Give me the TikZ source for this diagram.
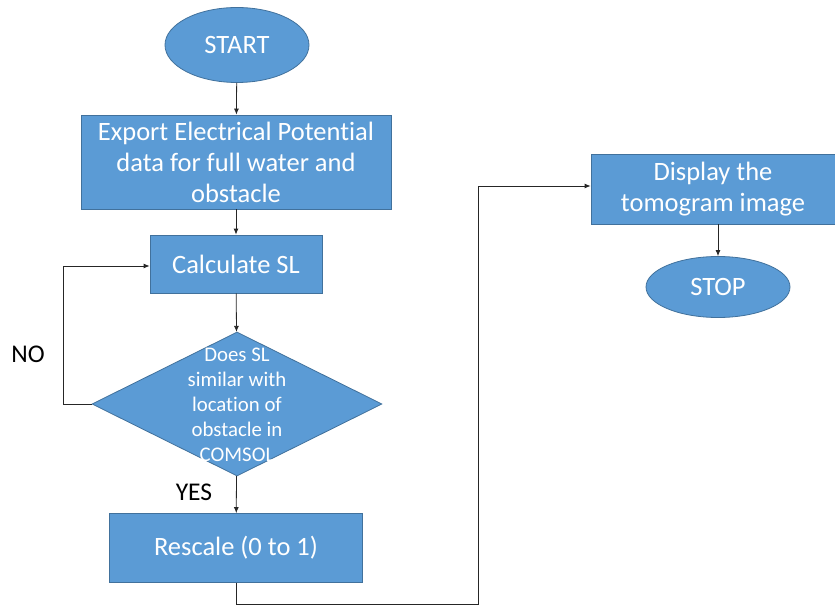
\documentclass[tikz,border=0pt]{standalone}
\usepackage{fontspec}
\setmainfont[Ligatures={NoCommon}]{Carlito}
\usepackage{tikz}
\usetikzlibrary{arrows.meta, positioning, shapes.geometric}
\definecolor{boxblue}{HTML}{5B9BD5}
\definecolor{edgeblue}{HTML}{41719C}

\begin{document}
\begin{tikzpicture}[
    x=1pt, y=-1pt,
    block/.style={rectangle, draw=edgeblue, fill=boxblue, line width=0.8pt, text=white,
        font=\fontsize{26.5}{31}\selectfont, align=center, inner sep=0pt},
    terminal/.style={ellipse, draw=edgeblue, fill=boxblue, line width=0.8pt, text=white,
        font=\fontsize{26.5}{31}\selectfont, inner sep=0pt, minimum width=144pt},
    decision/.style={diamond, draw=edgeblue, fill=boxblue, line width=0.8pt, inner sep=0pt,
        minimum width=290pt, minimum height=144pt},
    flow/.style={-{Latex[length=6pt, width=5pt]}, line width=0.8pt, black!85},
]
    \useasboundingbox (0, 0) rectangle (835, 607);

    % main column
    \node[terminal, minimum height=75pt] (start) at (237, 45) {START};
    \node[block, minimum width=310pt, minimum height=94pt] (export) at (236, 162)
        {Export Electrical Potential\\data for full water and\\obstacle};
    \node[block, minimum width=172pt, minimum height=58pt] (calc) at (236, 264) {Calculate SL};
    \node[decision] (check) at (237, 404) {};
    \node[text=white, align=center, font=\fontsize{20.8}{25}\selectfont] (checktext) at (237, 405)
        {Does SL\\similar with\\location of\\obstacle in\\COMSOL};
    \node[block, minimum width=253pt, minimum height=69pt] (rescale) at (236, 548) {Rescale (0 to 1)};

    % right column
    \node[block, minimum width=244pt, minimum height=70pt] (display) at (713, 189)
        {Display the\\tomogram image};
    \node[terminal, minimum height=61pt] (stop) at (718, 287) {STOP};

    % labels
    \node[font=\fontsize{25.5}{30}\selectfont] (no) at (28, 354) {NO};
    \node[font=\fontsize{25.5}{30}\selectfont] (yes) at (194, 492) {YES};

    \coordinate (loopbot) at (63, 404);
    \coordinate (looptop) at (63, 266);
    \coordinate (downA) at (236, 604);
    \coordinate (downB) at (478, 604);
    \coordinate (upB) at (478, 186);

    \draw[flow] (start) -- (export);
    \draw[flow] (export) -- (calc);
    \draw[flow] (calc) -- (check);
    \draw[flow] (check) -- (rescale);
    \draw[flow] (check.west) -- (loopbot) -- (looptop) -- (calc.west |- looptop);
    \draw[flow] (rescale.south) -- (downA) -- (downB) -- (upB) -- (display.west |- upB);
    \draw[flow] (stop.north |- display.south) -- (stop.north);
\end{tikzpicture}
\end{document}
